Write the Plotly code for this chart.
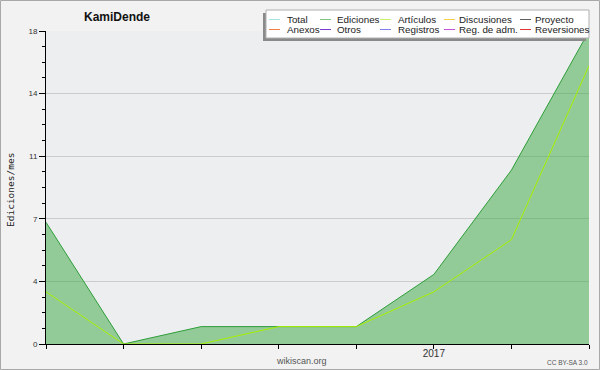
import plotly.graph_objects as go

# ---- data ----
months = ["2016-08", "2016-09", "2016-10", "2016-11", "2016-12", "2017-01", "2017-02", "2017-03"]
month_labels = ["", "", "", "", "", "2017", "", ""]
ediciones = [7, 0, 1, 1, 1, 4, 10, 18]
articulos = [3, 0, 0, 1, 1, 3, 6, 16]
y_tickvals = [0, 3.6, 7.2, 10.8, 14.4, 18]
y_ticktext = ["0", "4", "7", "11", "14", "18"]
legend_row1 = ["Total", "Ediciones", "Artículos", "Discusiones", "Proyecto"]
legend_row2 = ["Anexos", "Otros", "Registros", "Reg. de adm.", "Reversiones"]
legend_colors1 = ["#a6e3e0", "#7fc47f", "#c6ef6a", "#f5cf4a", "#606060"]
legend_colors2 = ["#f08048", "#7d3bd0", "#7f7ff0", "#c84fe0", "#e03535"]

# ---- layout geometry (pixels) ----
WIDTH, HEIGHT = 600, 370
L, R, T, B = 46, 11, 31, 26
PW, PH = WIDTH - L - R, HEIGHT - T - B


def px(x):
    return (x - L) / PW


def py(y):
    return 1 - (y - T) / PH


fig = go.Figure()
fig.add_trace(go.Scatter(
    x=months, y=ediciones, mode="lines", name="Ediciones",
    line=dict(color="#2e9e3a", width=1),
    fill="tozeroy", fillcolor="rgba(56,167,61,0.5)",
))
fig.add_trace(go.Scatter(
    x=months, y=articulos, mode="lines", name="Artículos",
    line=dict(color="#a8f000", width=1),
))

shapes = []
annotations = []

# figure border
shapes.append(dict(type="rect", xref="paper", yref="paper",
                   x0=px(0.5), x1=px(WIDTH - 0.5), y0=py(0.5), y1=py(HEIGHT - 0.5),
                   line=dict(color="#a8a8a8", width=1), fillcolor="rgba(0,0,0,0)", layer="below"))

# legend box with shadow
shapes.append(dict(type="rect", xref="paper", yref="paper",
                   x0=px(263), x1=px(586), y0=py(13), y1=py(41),
                   line=dict(width=0), fillcolor="#8a8a8a", layer="above"))
shapes.append(dict(type="rect", xref="paper", yref="paper",
                   x0=px(266), x1=px(589), y0=py(10), y1=py(38),
                   line=dict(color="#b0b0b0", width=1), fillcolor="#ffffff", layer="above"))

line_x = [269, 320, 380, 444, 520]
text_x = [285, 335, 396, 457, 533]
row_y = [19.5, 29.5]
for row, (names, cols) in enumerate([(legend_row1, legend_colors1), (legend_row2, legend_colors2)]):
    for i, (nm, c) in enumerate(zip(names, cols)):
        shapes.append(dict(type="line", xref="paper", yref="paper",
                           x0=px(line_x[i]), x1=px(line_x[i] + 11), y0=py(row_y[row]), y1=py(row_y[row]),
                           line=dict(color=c, width=1), layer="above"))
        annotations.append(dict(text=nm, xref="paper", yref="paper", x=px(text_x[i]), y=py(row_y[row]),
                                xanchor="left", yanchor="middle", showarrow=False,
                                font=dict(family="Liberation Sans", size=9.8, color="#222")))

# title
annotations.append(dict(text="<b>KamiDende</b>", xref="paper", yref="paper", x=px(117), y=py(17),
                        xanchor="center", yanchor="middle", showarrow=False,
                        font=dict(family="Liberation Sans", size=12, color="#111")))
# y-axis title
annotations.append(dict(text="Ediciones/mes", xref="paper", yref="paper", x=px(10), y=py(190),
                        xanchor="center", yanchor="middle", showarrow=False, textangle=-90,
                        font=dict(family="DejaVu Sans Mono", size=9.5, color="#222")))
# footer texts
annotations.append(dict(text="wikiscan.org", xref="paper", yref="paper", x=px(301), y=py(361),
                        xanchor="center", yanchor="middle", showarrow=False,
                        font=dict(family="Liberation Sans", size=9, color="#555")))
annotations.append(dict(text="CC BY-SA 3.0", xref="paper", yref="paper", x=px(590), y=py(362),
                        xanchor="right", yanchor="middle", showarrow=False,
                        font=dict(family="Liberation Sans", size=6.5, color="#555")))

fig.update_layout(
    width=WIDTH, height=HEIGHT,
    margin=dict(l=L, r=R, t=T, b=B, pad=0, autoexpand=False),
    paper_bgcolor="#f2f2f2", plot_bgcolor="#edeef0",
    showlegend=False,
    shapes=shapes, annotations=annotations,
    font=dict(family="Liberation Sans", size=9, color="#333"),
    xaxis=dict(
        type="category", range=[0, len(months) - 1],
        tickmode="array", tickvals=months, ticktext=month_labels,
        showgrid=False, zeroline=False,
        showline=True, linecolor="#000", linewidth=1,
        ticks="outside", ticklen=4, tickcolor="#000",
        ticklabelstandoff=-4,
        tickfont=dict(family="Liberation Sans", size=10, color="#333"),
        fixedrange=True,
    ),
    yaxis=dict(
        range=[0, 18],
        tickmode="array", tickvals=y_tickvals, ticktext=y_ticktext,
        showgrid=True, gridcolor="#cccccc", gridwidth=1, zeroline=False,
        showline=True, linecolor="#000", linewidth=1,
        ticks="outside", ticklen=6, tickcolor="#000",
        tickfont=dict(family="Liberation Sans", size=8, color="#333"),
        minor=dict(dtick=0.9, tick0=0, ticks="outside", ticklen=3, tickcolor="#000", showgrid=False),
        fixedrange=True,
    ),
)

fig.write_html(
    "out.html",
    config={"displayModeBar": False},
    post_script="document.body.style.margin='0';document.body.style.overflow='hidden';",
)
